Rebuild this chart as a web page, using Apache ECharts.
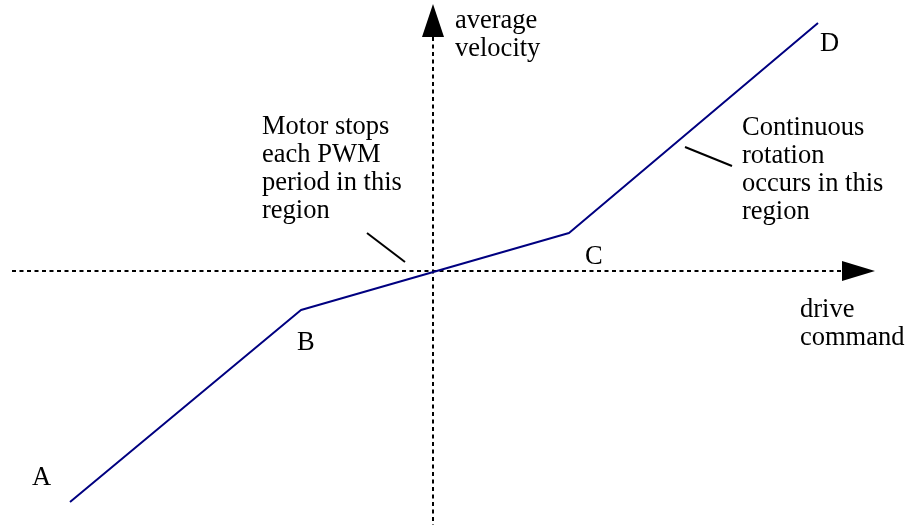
<!DOCTYPE html>
<html>
<head>
<meta charset="utf-8">
<script src="https://cdn.jsdelivr.net/npm/echarts@6/dist/echarts.min.js"></script>
<style>
  html, body { margin: 0; padding: 0; background: #fff; }
  #chart { width: 907px; height: 525px; }
</style>
</head>
<body>
<div id="chart"></div>
<script>
// piecewise curve A-B-C-D (units = pixels from the origin)
const driveCmd = [-363, -132, 136, 385];
const avgVel = [-231, -39, 38, 248];
const pointNames = ['A', 'B', 'C', 'D'];
const pointLabelX = [-401, -136, 152, 387];
const pointLabelY = [-193, -58, 28, 241];

// dotted axes
const hAxisLine = [[-421, 0], [409, 0]];
const vAxisLine = [[0, 234], [0, -254]];

// annotation leader lines
const motorPointer = [[-66, 38], [-28, 9]];
const contPointer = [[252, 124], [299, 105]];

// annotation texts and their top-left anchors
const noteTexts = [
  'average\nvelocity',
  'drive\ncommand',
  'Motor stops\neach PWM\nperiod in this\nregion',
  'Continuous\nrotation\noccurs in this\nregion'
];
const noteX = [22, 367, -171, 309];
const noteY = [264, -25, 158, 157];

const font = {
  fontFamily: '"Liberation Serif", "Times New Roman", serif',
  fontSize: 26.5,
  lineHeight: 28,
  color: '#000'
};

let myChart = echarts.init(document.getElementById('chart'));

const labelPoints = [];
pointNames.forEach((n, i) => labelPoints.push({ value: [pointLabelX[i], pointLabelY[i]], name: n }));
noteTexts.forEach((t, i) => labelPoints.push({ value: [noteX[i], noteY[i]], name: t }));

const dotted = { color: '#000', width: 2, type: [4, 3.5] };

myChart.setOption({
  animation: false,
  grid: { left: 0, right: 0, top: 0, bottom: 0 },
  xAxis: { type: 'value', min: -433, max: 474, show: false },
  yAxis: { type: 'value', min: -254, max: 271, show: false },
  series: [
    {
      type: 'line', data: hAxisLine, showSymbol: false, silent: true,
      lineStyle: dotted
    },
    {
      type: 'line', data: vAxisLine, showSymbol: false, silent: true,
      lineStyle: dotted
    },
    {
      // arrow heads
      type: 'scatter', silent: true,
      data: [
        { value: [0, 250.5], symbolSize: [22, 33], symbolRotate: 0 },
        { value: [425.5, 0], symbolSize: [20, 33], symbolRotate: -90 }
      ],
      symbol: 'triangle',
      itemStyle: { color: '#000', opacity: 1 }
    },
    {
      type: 'line', data: motorPointer, showSymbol: false, silent: true,
      lineStyle: { color: '#000', width: 2 }
    },
    {
      type: 'line', data: contPointer, showSymbol: false, silent: true,
      lineStyle: { color: '#000', width: 2 }
    },
    {
      type: 'line',
      data: driveCmd.map((x, i) => [x, avgVel[i]]),
      showSymbol: false, silent: true,
      lineStyle: { color: '#000080', width: 2 }
    },
    {
      type: 'scatter', silent: true, symbolSize: 0,
      data: labelPoints,
      itemStyle: { opacity: 1 },
      label: Object.assign({
        show: true,
        position: [0, 0],
        align: 'left',
        verticalAlign: 'top',
        formatter: p => p.name
      }, font)
    }
  ]
});
</script>
</body>
</html>
